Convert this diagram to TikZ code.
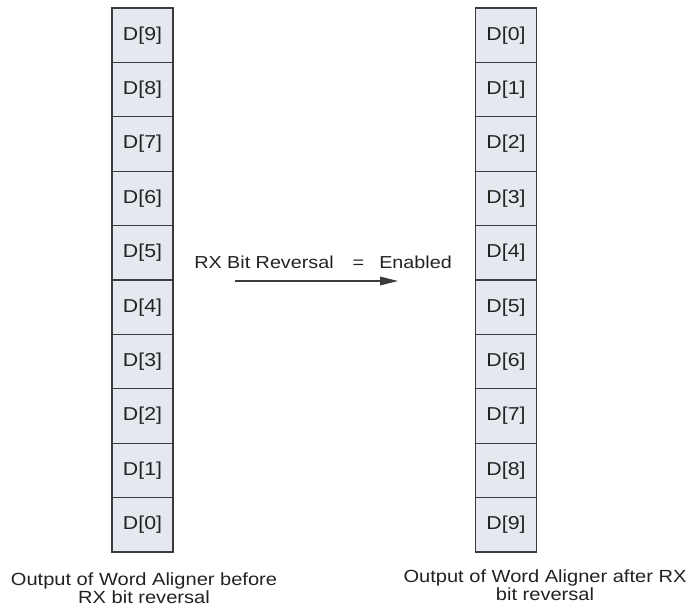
\documentclass[tikz,border=0pt]{standalone}
\usepackage{fontspec}
\setmainfont{Liberation Sans}[FakeStretch=1.14]
\usetikzlibrary{arrows.meta}
\definecolor{cellfill}{HTML}{E5E8EE}
\definecolor{cellline}{HTML}{3C3C3C}
\definecolor{txt}{HTML}{222222}
\begin{document}
\begin{tikzpicture}[x=0.75pt,y=-0.75pt,
  cell/.style={draw=cellline,fill=cellfill,line width=1pt,minimum width=45.75pt,minimum height=40.8pt,inner sep=0pt,text=txt,font=\fontsize{14}{16}\selectfont},
  lbl/.style={inner sep=0pt,text=txt,font=\fontsize{13}{15}\selectfont},
  captext/.style={inner sep=0pt,text=txt,align=center,font=\fontsize{13.2}{13.6}\selectfont}]
\useasboundingbox (0,0) rectangle (686,607);
\foreach \i in {0,...,9}{
  \pgfmathtruncatemacro{\l}{9-\i}
  \node[cell] (L\i) at (142.5,{8+54.4*\i+27.2}) {D[\l]};
  \node[cell] (R\i) at (506,{8+54.4*\i+27.2}) {D[\i]};
}
\node[lbl,anchor=base west] (t1) at (194,268) {RX Bit Reversal};
\node[lbl,anchor=base] (t2) at (358.5,268) {=};
\node[lbl,anchor=base west] (t3) at (379,268) {Enabled};
\coordinate (a0) at (235,281);
\coordinate (a1) at (398,281);
\draw[line width=0.9pt,cellline,-{Triangle[length=13.5pt,width=6.5pt]}] (a0) -- (a1);
\node[captext,anchor=north] (c1) at (144,572) {Output of Word Aligner before\\RX bit reversal};
\node[captext,anchor=north] (c2) at (545,569) {Output of Word Aligner after RX\\bit reversal};
\end{tikzpicture}
\end{document}
